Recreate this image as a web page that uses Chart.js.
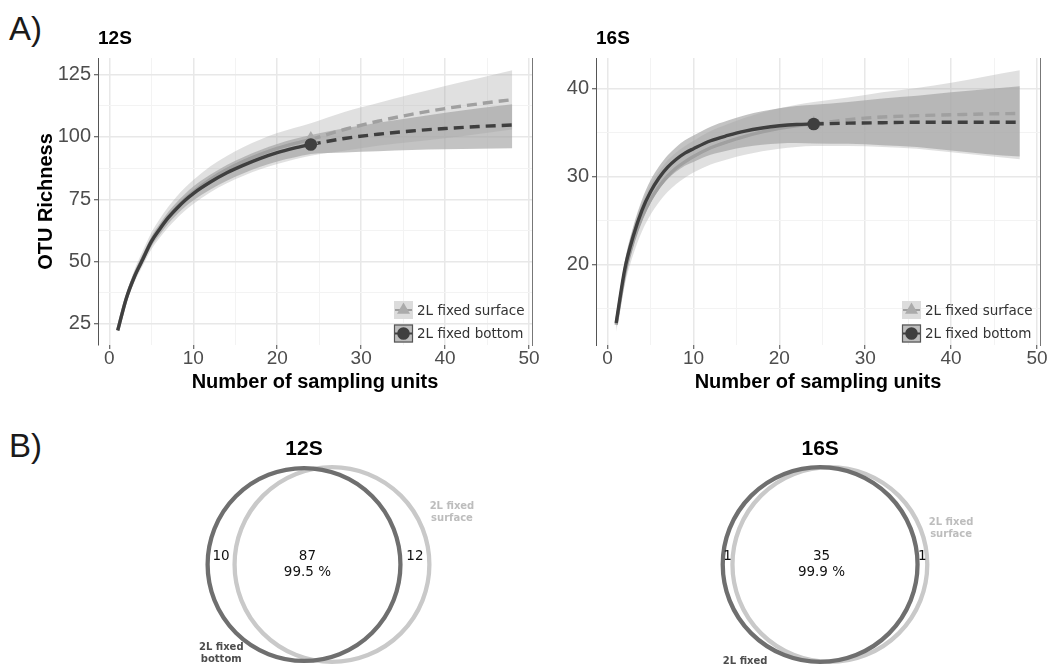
<!DOCTYPE html>
<html><head><meta charset="utf-8">
<script src="https://cdn.jsdelivr.net/npm/chart.js@4.4.0/dist/chart.umd.min.js"></script>
<style>
html,body{margin:0;padding:0;background:#fff;}
#wrap{position:relative;width:1050px;height:666px;overflow:hidden;background:#fff;}
canvas{position:absolute;}
.panel{position:absolute;font-family:'Liberation Sans',Arial,sans-serif;color:#1a1a1a;font-size:33px;line-height:1;}
</style></head><body>
<div id="wrap">
<div class="panel" style="left:9px;top:12px">A)</div>
<div class="panel" style="left:9px;top:429px">B)</div>
<canvas id="c12" width="545" height="400" style="left:0;top:0"></canvas>
<canvas id="c16" width="505" height="400" style="left:545px;top:0"></canvas>
<canvas id="v12" width="340" height="246" style="left:148px;top:420px"></canvas>
<canvas id="v16" width="340" height="246" style="left:655px;top:420px"></canvas>
</div>
<script>
// ---------------- data ----------------
const sampleUnitsInterp = [1,2,3,4,5,6,7,8,9,10,12,14,16,18,20,22,24];
const sampleUnitsExtrap = [24,28,32,36,40,44,48];
const sampleUnitsBand   = [1,2,3,4,5,6,7,8,9,10,12,14,16,18,20,22,24,28,32,36,40,44,48];
const seriesLabels = ['2L fixed surface', '2L fixed bottom'];
const markerTitles = ['12S', '16S'];
const yAxisTitle = 'OTU Richness';
const xAxisTitle = 'Number of sampling units';
const xTickLabels = [0,10,20,30,40,50];
const y12TickLabels = [25,50,75,100,125];
const y16TickLabels = [20,30,40];

// 12S rarefaction / extrapolation
const r12SurfaceInterp = [22.5,35,44.2,51.4,58.2,63.3,67.8,71.6,75,77.9,82.9,86.9,90.2,93,95.4,97.3,99];
const r12SurfaceExtrap = [99,103,106.3,109.1,111.4,113.3,115];
const r12SurfaceUpper  = [23.3,36.8,46.7,54.4,61.6,67.1,71.9,76,79.6,82.7,88.1,92.4,96,99,101.6,103.6,105.5,110,113.6,117.1,120.5,123.6,126.8];
const r12SurfaceLower  = [21.7,33.2,41.7,48.4,54.8,59.5,63.7,67.2,70.4,73.1,77.7,81.4,84.4,87,89.2,91,92.5,94.5,96.5,98,99.5,101.2,103];
const r12BottomInterp  = [22.3,35,44,51,58,63,67.5,71.2,74.5,77.3,81.8,85.6,88.7,91.4,93.7,95.5,97];
const r12BottomExtrap  = [97,99.4,101.1,102.4,103.4,104.2,104.8];
const r12BottomUpper   = [22.8,36.1,45.5,52.8,60,65.2,69.9,73.7,77.1,80.1,84.8,88.8,92,94.8,97.2,99.2,100.8,103.5,105.7,107.7,109.7,111.5,113.1];
const r12BottomLower   = [21.8,33.9,42.5,49.2,56,60.8,65.1,68.7,71.9,74.5,78.8,82.4,85.4,88,90.2,91.8,93.2,93.8,94.3,94.8,95.1,95.3,95.5];

// 16S rarefaction / extrapolation
const r16SurfaceInterp = [13.2,19.0,22.7,25.4,27.4,28.9,30.1,31.0,31.7,32.3,33.3,34.0,34.6,35.1,35.5,35.8,36];
const r16SurfaceExtrap = [36,36.5,36.8,36.95,37.05,37.15,37.2];
const r16SurfaceUpper  = [14,20.3,24.2,27,29.1,30.65,31.9,32.8,33.5,34.1,35.2,36,36.7,37.3,37.8,38.2,38.5,39.0,39.6,40.1,40.7,41.4,42.1];
const r16SurfaceLower  = [12.4,17.7,21.2,23.8,25.7,27.15,28.3,29.2,29.9,30.5,31.4,32,32.5,32.9,33.2,33.4,33.5,33.5,33.4,33.2,32.8,32.4,32.0];
const r16BottomInterp  = [13.4,19.5,23.3,26.2,28.3,29.9,31.1,32.0,32.7,33.2,34.1,34.7,35.2,35.55,35.8,35.95,36];
const r16BottomExtrap  = [36,36.1,36.15,36.2,36.2,36.2,36.2];
const r16BottomUpper   = [13.9,20.4,24.4,27.4,29.6,31.2,32.45,33.4,34.15,34.7,35.7,36.4,37,37.45,37.8,38.05,38.2,38.5,38.9,39.2,39.6,39.95,40.3];
const r16BottomLower   = [12.9,18.6,22.2,25,27,28.6,29.75,30.6,31.25,31.7,32.5,33,33.4,33.65,33.8,33.85,33.8,33.75,33.6,33.4,33.0,32.6,32.3];

// Venn: [only bottom, shared, only surface]
const venn12Counts = [10, 87, 12];
const venn16Counts = [1, 35, 1];
const venn12SharedPct = '99.5 %';
const venn16SharedPct = '99.9 %';

// ---------------- styles ----------------
const SANS = "'Liberation Sans', Arial, sans-serif";
const DJ = "'DejaVu Sans', Verdana, sans-serif";
const SURF_BAND = 'rgba(170,170,170,0.36)';
const BOT_BAND = 'rgba(162,162,162,0.645)';
const SURF_LINE = '#a0a0a0';
const SURF_PT = '#ababab';
const BOT_LINE = '#3f3f3f';

function pts(xs, ys) { return xs.map((x, i) => ({x: x, y: ys[i]})); }
function ribbon(ys, fill, color, order) {
  return {data: pts(sampleUnitsBand, ys), fill: fill, backgroundColor: color, borderColor: 'rgba(0,0,0,0)',
    borderWidth: 0, pointRadius: 0, pointHoverRadius: 0, cubicInterpolationMode: 'monotone', order: order};
}
function curve(xs, ys, color, dash, order) {
  return {data: pts(xs, ys), fill: false, borderColor: color, borderWidth: 3.4, borderDash: dash,
    borderCapStyle: 'butt', pointRadius: 0, pointHoverRadius: 0, cubicInterpolationMode: 'monotone', order: order};
}

const ggLegend = {
  id: 'ggLegend',
  afterDatasetsDraw(chart, args, o) {
    const ctx = chart.ctx, a = chart.chartArea;
    ctx.save();
    o.items.forEach((it, i) => {
      const kx = a.right - o.fromRight, ky = a.bottom - o.fromBottom + i * o.rowGap;
      const kw = 19, kh = 18, cx = kx + kw / 2, cy = ky + kh / 2;
      ctx.fillStyle = it.fill; ctx.fillRect(kx, ky, kw, kh);
      if (it.stroke) { ctx.strokeStyle = it.stroke; ctx.lineWidth = 1.2; ctx.strokeRect(kx + 0.5, ky + 0.5, kw - 1, kh - 1); }
      ctx.strokeStyle = it.line; ctx.lineWidth = 2; ctx.setLineDash([]);
      ctx.beginPath(); ctx.moveTo(kx + 1, cy); ctx.lineTo(kx + kw - 1, cy); ctx.stroke();
      ctx.fillStyle = it.marker;
      ctx.beginPath();
      if (it.shape === 'triangle') {
        const r = 7.5;
        ctx.moveTo(cx, cy - r); ctx.lineTo(cx + 0.866 * r, cy + 0.5 * r); ctx.lineTo(cx - 0.866 * r, cy + 0.5 * r);
        ctx.closePath();
      } else {
        ctx.arc(cx, cy, 6.3, 0, Math.PI * 2);
      }
      ctx.fill();
      ctx.fillStyle = '#333'; ctx.font = "13.5px " + DJ; ctx.textAlign = 'left'; ctx.textBaseline = 'middle';
      ctx.fillText(it.text, kx + kw + 4, cy + 1);
    });
    ctx.restore();
  }
};

function rarefactionChart(id, s, o) {
  const last = sampleUnitsInterp.length - 1;
  const refX = sampleUnitsInterp[last];
  const maj = (list) => (c) => !!(c.tick && list.includes(c.tick.value));
  const grid = (list) => ({
    color: c => maj(list)(c) ? '#e8e8e8' : '#f3f3f3',
    lineWidth: c => maj(list)(c) ? 1.5 : 1,
    tickLength: 4,
    tickColor: c => maj(list)(c) ? '#444' : 'rgba(0,0,0,0)',
    tickWidth: 1
  });
  const datasets = [
    ribbon(s.surfUpper, '+1', SURF_BAND, 9),
    ribbon(s.surfLower, false, SURF_BAND, 9),
    ribbon(s.botUpper, '+1', BOT_BAND, 8),
    ribbon(s.botLower, false, BOT_BAND, 8),
    curve(sampleUnitsInterp, s.surfInterp, SURF_LINE, [], 6),
    curve(sampleUnitsExtrap, s.surfExtrap, SURF_LINE, [10, 6], 6),
    curve(sampleUnitsInterp, s.botInterp, BOT_LINE, [], 5),
    curve(sampleUnitsExtrap, s.botExtrap, BOT_LINE, [10, 6], 5),
    {data: [{x: refX, y: s.surfInterp[last]}], showLine: false, pointStyle: 'triangle', pointRadius: 8.5,
      pointBackgroundColor: SURF_PT, pointBorderWidth: 0, pointBorderColor: SURF_PT, order: 3},
    {data: [{x: refX, y: s.botInterp[last]}], showLine: false, pointStyle: 'circle', pointRadius: 6.3,
      pointBackgroundColor: BOT_LINE, pointBorderWidth: 0, pointBorderColor: BOT_LINE, order: 1}
  ];
  return new Chart(document.getElementById(id), {
    type: 'line',
    data: {datasets: datasets},
    plugins: [ggLegend],
    options: {
      responsive: false, animation: false, devicePixelRatio: 1, events: [],
      layout: {padding: 0},
      plugins: {
        legend: {display: false}, tooltip: {enabled: false},
        title: {display: true, text: o.title, align: 'start', fullSize: false, color: '#000',
          font: {family: SANS, size: 19, weight: 'bold'}, padding: {top: 27, bottom: 8.2}},
        ggLegend: {fromRight: 138, fromBottom: 44, rowGap: 23.5, items: [
          {text: seriesLabels[0], fill: '#dcdcdc', line: SURF_LINE, marker: SURF_PT, shape: 'triangle'},
          {text: seriesLabels[1], fill: '#bdbdbd', stroke: '#555', line: BOT_LINE, marker: BOT_LINE, shape: 'circle'}
        ]}
      },
      scales: {
        x: {type: 'linear', min: -1.35, max: 50.35,
          ticks: {stepSize: 5, autoSkip: false, includeBounds: false, maxRotation: 0, padding: 0,
            callback: v => xTickLabels.includes(v) ? String(v) : '',
            color: '#4d4d4d', font: {family: SANS, size: 19, lineHeight: 1}},
          grid: grid(xTickLabels), border: {display: false},
          title: {display: true, text: xAxisTitle, color: '#000', font: {family: SANS, size: 20, weight: 'bold'},
            padding: {top: 0, bottom: 6}},
          afterFit: sc => { sc.height = 55; }
        },
        y: {type: 'linear', min: o.ymin, max: o.ymax,
          ticks: {stepSize: o.step, autoSkip: false, includeBounds: false, padding: 3,
            callback: v => o.yTicks.includes(v) ? String(v) : '',
            color: '#4d4d4d', font: {family: SANS, size: 20}},
          grid: grid(o.yTicks), border: {display: true, color: '#555', width: 1},
          title: {display: !!o.yTitle, text: o.yTitle || '', color: '#000', font: {family: SANS, size: 20, weight: 'bold'},
            padding: {top: 34, bottom: 0}},
          afterFit: sc => { sc.width = o.yWidth; }
        },
        yr: {type: 'linear', position: 'right', min: 0, max: 1,
          ticks: {display: false}, grid: {display: false, drawTicks: false},
          border: {display: true, color: '#777', width: 1},
          afterFit: sc => { sc.width = o.rWidth; }
        }
      }
    }
  });
}

rarefactionChart('c12', {surfInterp: r12SurfaceInterp, surfExtrap: r12SurfaceExtrap, surfUpper: r12SurfaceUpper, surfLower: r12SurfaceLower,
  botInterp: r12BottomInterp, botExtrap: r12BottomExtrap, botUpper: r12BottomUpper, botLower: r12BottomLower},
  {title: markerTitles[0], ymin: 16.5, ymax: 131.7, step: 12.5, yTicks: y12TickLabels, yTitle: yAxisTitle, yWidth: 98, rWidth: 13});
rarefactionChart('c16', {surfInterp: r16SurfaceInterp, surfExtrap: r16SurfaceExtrap, surfUpper: r16SurfaceUpper, surfLower: r16SurfaceLower,
  botInterp: r16BottomInterp, botExtrap: r16BottomExtrap, botUpper: r16BottomUpper, botLower: r16BottomLower},
  {title: markerTitles[1], ymin: 10.9, ymax: 43.5, step: 5, yTicks: y16TickLabels, yTitle: null, yWidth: 51, rWidth: 10});

// ---------------- Venn ----------------
const vennText = {
  id: 'vennText',
  afterDatasetsDraw(chart, args, o) {
    const ctx = chart.ctx, x = chart.scales.x, y = chart.scales.y;
    ctx.save();
    o.labels.forEach(l => {
      ctx.font = l.font; ctx.fillStyle = l.color; ctx.textAlign = 'center'; ctx.textBaseline = 'middle';
      ctx.fillText(l.text, x.getPixelForValue(l.x), y.getPixelForValue(l.y));
    });
    ctx.restore();
  }
};

function vennChart(id, counts, pct, title, layout) {
  const nBottom = counts[0] + counts[1], nSurface = counts[1] + counts[2];
  const nMax = Math.max(nBottom, nSurface);
  const rB = Math.sqrt(nBottom / nMax), rS = Math.sqrt(nSurface / nMax);
  const sep = layout.sep, xd = -sep / 2, xl = sep / 2;
  const unitPx = c => { const sx = c.chart.scales.x; return Math.abs(sx.getPixelForValue(1) - sx.getPixelForValue(0)); };
  const leftX = ((xd - rB) + (xl - rS)) / 2;
  const rightX = ((xd + rB) + (xl + rS)) / 2;
  const sharedX = ((xl - rS) + (xd + rB)) / 2 - 0.36 * sep;
  const numFont = "13.5px " + DJ, nameFont = "bold 10px " + DJ, lg = 0.123;
  const sn = seriesLabels[0].split(' '), bn = seriesLabels[1].split(' ');
  const labels = [
    {text: title, x: xd, y: 1.183, font: "bold 21px " + SANS, color: '#000'},
    {text: String(counts[0]), x: leftX, y: 0.085, font: numFont, color: '#111'},
    {text: String(counts[1]), x: sharedX, y: 0.085, font: numFont, color: '#111'},
    {text: pct, x: sharedX, y: -0.085, font: numFont, color: '#111'},
    {text: String(counts[2]), x: rightX, y: 0.085, font: numFont, color: '#111'},
    {text: sn[0] + ' ' + sn[1], x: xl + layout.surfName[0], y: layout.surfName[1] + lg / 2, font: nameFont, color: '#bdbdbd'},
    {text: sn[2], x: xl + layout.surfName[0], y: layout.surfName[1] - lg / 2, font: nameFont, color: '#bdbdbd'},
    {text: bn[0] + ' ' + bn[1], x: xd + layout.botName[0], y: layout.botName[1] + lg / 2, font: nameFont, color: '#4d4d4d'},
    {text: bn[2], x: xd + layout.botName[0], y: layout.botName[1] - lg / 2, font: nameFont, color: '#4d4d4d'}
  ];
  return new Chart(document.getElementById(id), {
    type: 'scatter',
    data: {datasets: [
      {label: seriesLabels[1], data: [{x: xd, y: 0}], pointRadius: c => rB * unitPx(c), pointStyle: 'circle',
        pointBorderColor: '#6f6f6f', pointBorderWidth: 4.3, pointBackgroundColor: 'rgba(0,0,0,0)', clip: false},
      {label: seriesLabels[0], data: [{x: xl, y: 0}], pointRadius: c => rS * unitPx(c), pointStyle: 'circle',
        pointBorderColor: '#c9c9c9', pointBorderWidth: 4.3, pointBackgroundColor: 'rgba(0,0,0,0)', clip: false}
    ]},
    plugins: [vennText],
    options: {
      responsive: false, animation: false, devicePixelRatio: 1, events: [],
      layout: {padding: 0},
      plugins: {legend: {display: false}, tooltip: {enabled: false}, vennText: {labels: labels}},
      scales: {
        x: {display: false, min: -1.7454, max: 1.7454},
        y: {display: false, min: -1.0421, max: 1.4836}
      }
    }
  });
}

vennChart('v12', venn12Counts, venn12SharedPct, markerTitles[0], {sep: 0.287, surfName: [1.232, 0.534], botName: [-0.85, -0.911]});
vennChart('v16', venn16Counts, venn16SharedPct, markerTitles[1], {sep: 0.10, surfName: [1.244, 0.367], botName: [-0.77, -1.058]});
</script>
</body></html>
